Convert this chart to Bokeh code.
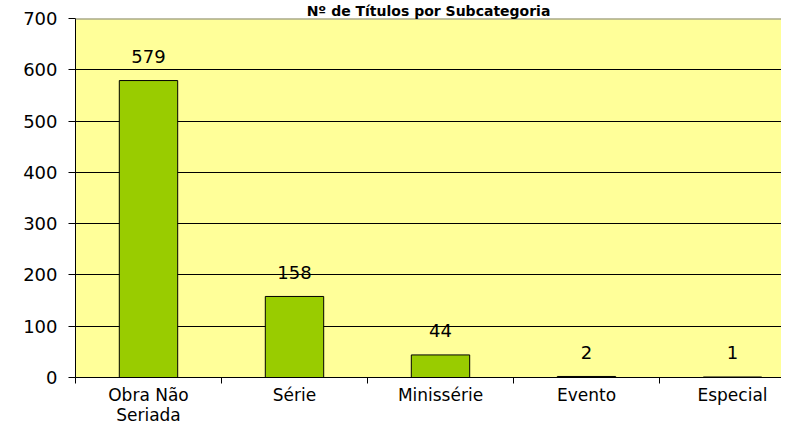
from bokeh.plotting import figure
from bokeh.models import Range1d, FixedTicker, Span, ColumnDataSource
from bokeh.embed import file_html
from bokeh.resources import INLINE
from bokeh.core.properties import value

# ---- data ----
categories = ["Obra Não\nSeriada", "Série", "Minissérie", "Evento", "Especial"]
counts = [579, 158, 44, 2, 1]
y_ticks = [0, 100, 200, 300, 400, 500, 600, 700]
title_text = "Nº de Títulos por Subcategoria"

FONT = "DejaVu Sans"
positions = [i + 0.5 for i in range(len(categories))]
src = ColumnDataSource(dict(x=positions, top=counts, label=[str(c) for c in counts]))

W, H = 781, 427
LEFT, TOP, FRAME_H = 75, 19, 358
CAT_W = 146

p = figure(width=W, height=H, output_backend="svg", toolbar_location=None,
           title=title_text,
           x_range=Range1d(0, (W - LEFT) / CAT_W), y_range=Range1d(0, 700),
           min_border_left=LEFT, min_border_right=0, min_border_top=0,
           min_border_bottom=H - TOP - FRAME_H)

p.title.align = "center"
p.title.text_font = FONT
p.title.text_font_style = "bold"
p.title.text_font_size = "14px"
p.title.text_color = "black"
p.title.standoff = 0
p.title.offset = 0

p.background_fill_color = "#FFFF99"
p.border_fill_color = "white"
p.outline_line_color = None

p.vbar(x="x", top="top", bottom=0, width=0.4, source=src,
       fill_color="#99CC00", line_color="black", line_width=1)

p.text(x="x", y="top", text="label", source=src, y_offset=-24,
       text_align="center", text_baseline="middle",
       text_font=value(FONT), text_font_size="18px", text_color="black")

# grid
p.xgrid.visible = False
p.ygrid.ticker = FixedTicker(ticks=y_ticks)
p.ygrid.grid_line_color = "black"
p.ygrid.grid_line_width = 1
p.add_layout(Span(location=700, dimension="width", line_color="#808080", line_width=2))

# y axis
ya = p.yaxis[0]
ya.ticker = FixedTicker(ticks=y_ticks)
ya.minor_tick_line_color = None
ya.major_tick_in = 0
ya.major_tick_out = 7
ya.major_tick_line_color = "black"
ya.axis_line_color = "black"
ya.major_label_standoff = 11
ya.major_label_text_font = FONT
ya.major_label_text_font_size = "18px"
ya.major_label_text_color = "black"

# x axis: category boundaries as tick marks, names centred between them
xa = p.xaxis[0]
xa.ticker = FixedTicker(ticks=positions, minor_ticks=list(range(len(categories) + 1)))
xa.major_label_overrides = {pos: cat for pos, cat in zip(positions, categories)}
xa.major_tick_line_color = None
xa.major_tick_in = 0
xa.major_tick_out = 0
xa.minor_tick_in = 0
xa.minor_tick_out = 6
xa.minor_tick_line_color = "black"
xa.axis_line_color = "black"
xa.major_label_standoff = 1
xa.major_label_text_font = FONT
xa.major_label_text_font_size = "17px"
xa.major_label_text_line_height = 1.0
xa.major_label_text_color = "black"

open("out.html", "w").write(file_html(p, INLINE))
